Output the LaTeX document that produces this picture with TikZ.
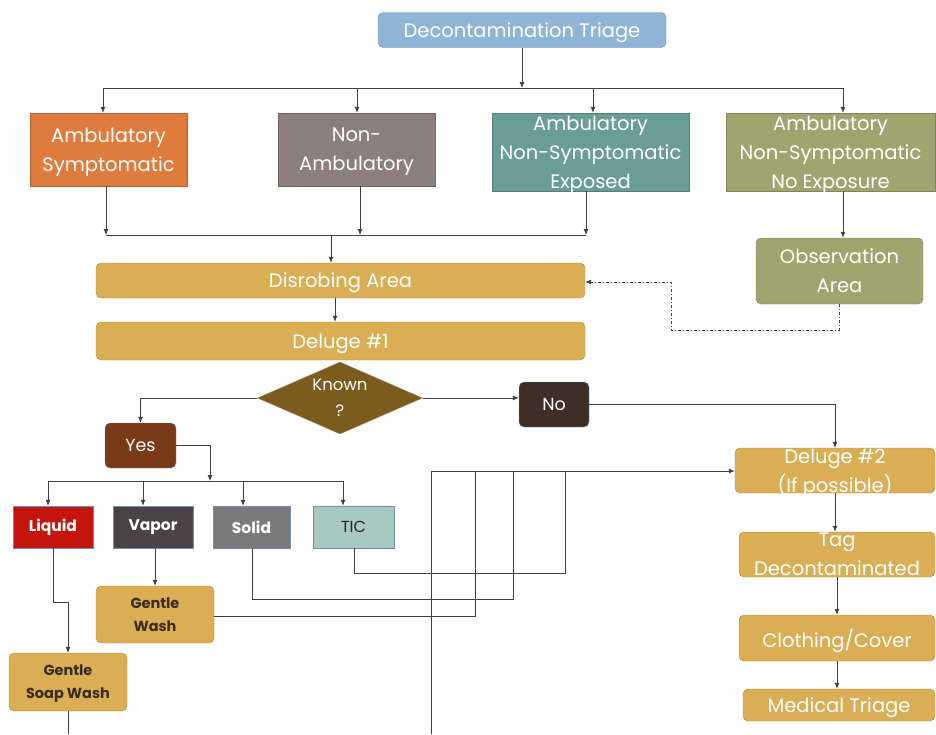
\documentclass[tikz,border=0pt]{standalone}
\usepackage{fontspec}
\setmainfont{Poppins}
\usetikzlibrary{arrows.meta,shapes.geometric}
\definecolor{cblue}{HTML}{8FB4D6}
\definecolor{corange}{HTML}{E07B3E}
\definecolor{cgrey}{HTML}{8C7F7C}
\definecolor{cteal}{HTML}{6A9D94}
\definecolor{colive}{HTML}{A0A56F}
\definecolor{cgold}{HTML}{D9AE55}
\definecolor{cdia}{HTML}{7B5B1E}
\definecolor{cyes}{HTML}{7A3A17}
\definecolor{cno}{HTML}{3E2E26}
\definecolor{cred}{HTML}{C3140E}
\definecolor{cvap}{HTML}{4A4244}
\definecolor{csol}{HTML}{7A7A7A}
\definecolor{ctic}{HTML}{A8C8C0}
\definecolor{cdark}{HTML}{3B2B1B}
\definecolor{cline}{HTML}{404040}
\definecolor{cedge}{HTML}{6F8FB0}
\begin{document}
\begin{tikzpicture}[x=1pt,y=-1pt,
bx/.style = {draw=#1!80!black,fill=#1,text=white,align=center,inner sep=0pt,text depth=-3pt,font=\fontsize{19.5}{29}\selectfont},
rbx/.style = {bx=#1,rounded corners=5pt},
sbx/.style = {draw=cedge,fill=#1,text=white,inner sep=0pt,font=\bfseries\fontsize{15.5}{17}\selectfont},
gbx/.style = {rbx=cgold,text=cdark,text depth=-1pt,font=\bfseries\fontsize{14.5}{23}\selectfont},
ln/.style = {draw,cline,line width=0.8pt},
arr/.style = {ln,-{Latex[length=6pt,width=5pt]}},
obsl/.style = {arr,dash pattern=on 3pt off 2pt on 1pt off 2pt}
]
  \useasboundingbox (0,0) rectangle (936,734);

  % top level
  \node[rbx=cblue,minimum width=288,minimum height=35] (trg) at (522,30) {Decontamination Triage};
  \node[bx=corange,minimum width=157,minimum height=73] (asym) at (108.5,149.5) {Ambulatory\\Symptomatic};
  \node[bx=cgrey,minimum width=157,minimum height=73] (nonamb) at (356.5,149.5) {Non-\\Ambulatory};
  \node[bx=cteal,minimum width=197,minimum height=78] (anexp) at (590.5,152) {Ambulatory\\Non-Symptomatic\\Exposed};
  \node[bx=colive,minimum width=209,minimum height=78] (anno) at (830.5,152) {Ambulatory\\Non-Symptomatic\\No Exposure};
  \node[rbx=colive,minimum width=167,minimum height=66] (obs) at (839.5,271) {Observation\\Area};

  % decon line
  \node[rbx=cgold,minimum width=489,minimum height=35] (disr) at (340.5,280.5) {Disrobing Area};
  \node[rbx=cgold,minimum width=489,minimum height=38] (del1) at (340.5,341) {Deluge \#1};
  \node[diamond,shape aspect=2.3,draw=cdia!70!white,fill=cdia,text=white,align=center,inner sep=0pt,
        minimum width=165,minimum height=72,font=\fontsize{16.5}{26}\selectfont] (known) at (340,398) {Known\\?};
  \node[rbx=cyes,draw=cedge,minimum width=71,minimum height=45,font=\fontsize{17.5}{20}\selectfont] (yes) at (140.5,445.5) {Yes};
  \node[rbx=cno,draw=cedge,minimum width=70,minimum height=45,font=\fontsize{17.5}{20}\selectfont] (no) at (554,404.5) {No};

  % agents
  \node[sbx=cred,minimum width=80,minimum height=42] (liq) at (53,527) {Liquid};
  \node[sbx=cvap,minimum width=80,minimum height=42] (vap) at (153,527) {Vapor};
  \node[sbx=csol,minimum width=77,minimum height=42] (sol) at (251.5,527) {Solid};
  \node[sbx=ctic,text=black!85,font=\fontsize{16}{17}\selectfont,minimum width=81,minimum height=42] (tic) at (353.5,527) {TIC};
  \node[gbx,minimum width=118,minimum height=57] (gw) at (155,614.5) {Gentle\\Wash};
  \node[gbx,minimum width=118,minimum height=58] (gsw) at (68,682) {Gentle\\Soap Wash};

  % right column
  \node[rbx=cgold,minimum width=200,minimum height=45] (del2) at (835,470.5) {Deluge \#2\\(If possible)};
  \node[rbx=cgold,minimum width=196,minimum height=45] (tag) at (837,554.5) {Tag\\Decontaminated};
  \node[rbx=cgold,minimum width=196,minimum height=46] (clo) at (837,638) {Clothing/Cover};
  \node[rbx=cgold,minimum width=192,minimum height=32] (med) at (839,705) {Medical Triage};

  % bus points
  \coordinate (t1) at (103,88);
  \coordinate (t2) at (357,88);
  \coordinate (t3) at (593,88);
  \coordinate (t4) at (843,88);
  \coordinate (m1) at (106,235);
  \coordinate (m2) at (360,235);
  \coordinate (m3) at (586,235);
  \coordinate (mc) at (331,235);
  \coordinate (k1) at (48,481);
  \coordinate (k2) at (143,481);
  \coordinate (k3) at (243,481);
  \coordinate (k4) at (343,481);
  \coordinate (ky) at (210,481);
  \coordinate (gsb) at (68,734);
  \coordinate (cb) at (431,734);
  \coordinate (ct) at (431,471);

  \path[arr] (trg) -- (trg |- t1);
  \path[ln] (t1) -- (t4);
  \path[arr] (t1) -- (t1 |- asym.north);
  \path[arr] (t2) -- (t2 |- nonamb.north);
  \path[arr] (t3) -- (t3 |- anexp.north);
  \path[arr] (t4) -- (t4 |- anno.north);

  \path[arr] (m1 |- asym.south) -- (m1);
  \path[arr] (m2 |- nonamb.south) -- (m2);
  \path[arr] (m3 |- anexp.south) -- (m3);
  \path[ln] (m1) -- (m3);
  \path[arr] (mc) -- (mc |- disr.north);

  \path[arr] (t4 |- anno.south) -- (t4 |- obs.north);
  \path[obsl] (obs.south -| 839,0) -- (839,330) -| (671,282) -- (671,282 -| disr.east);

  \path[arr] (335,0 |- disr.south) -- (335,0 |- del1.north);
  \path[arr] (known.west) -| (yes.north);
  \path[arr] (known.east) -- (known.east -| no.west);
  \path[arr] (no.east) -| (del2.north);

  \path[arr] (yes.east) -| (ky);
  \path[ln] (k1) -- (k4);
  \path[arr] (k1) -- (k1 |- liq.north);
  \path[arr] (k2) -- (k2 |- vap.north);
  \path[arr] (k3) -- (k3 |- sol.north);
  \path[arr] (k4) -- (k4 |- tic.north);

  \path[arr] (155,0 |- vap.south) -- (155,0 |- gw.north);
  \path[arr] (liq.south) -- (53,602) -| (gsw.north);
  \path[ln] (252,0 |- sol.south) |- (513,599) -- (513,471);
  \path[ln] (354,0 |- tic.south) |- (565,573) -- (565,471);
  \path[ln] (gw.east |- 0,616) -- (475,616) -- (475,471);
  \path[ln] (gsw.south) -- (gsb);
  \path[ln] (cb) -- (ct);
  \path[arr] (ct) -- (ct -| del2.west);

  \path[arr] (del2) -- (del2 |- tag.north);
  \path[arr] (tag) -- (tag |- clo.north);
  \path[arr] (clo) -- (clo |- med.north);
\end{tikzpicture}
\end{document}
